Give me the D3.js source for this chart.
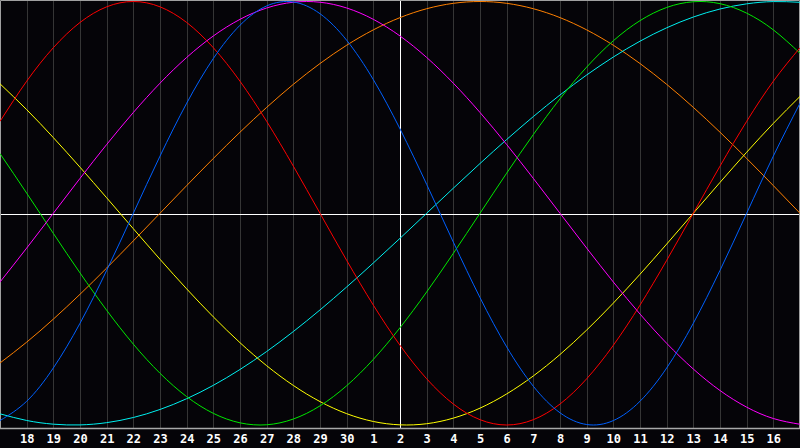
<!DOCTYPE html>
<html><head><meta charset="utf-8">
<script src="https://cdn.jsdelivr.net/npm/d3@7"></script>
<style>html,body{margin:0;padding:0;background:#050408;overflow:hidden}</style>
</head><body>
<svg id="c" width="800" height="448"></svg>
<script>
// Day labels (one per grid line, k = 1..29); k = 0 is day 17 at the left edge
const dayLabels = ["17","18","19","20","21","22","23","24","25","26","27","28","29","30","1","2","3","4","5","6","7","8","9","10","11","12","13","14","15","16","17"];
const todayIndex = 15;

// Series values, one per day (k = 0..30), range -1..1
const blue = [-0.9791,-0.8879,-0.7308,-0.5196,-0.2698,0,0.2698,0.5196,0.7308,0.8879,0.9791,0.9977,0.9423,0.8170,0.6311,0.3984,0.1362,-0.1362,-0.3984,-0.6311,-0.8170,-0.9423,-0.9977,-0.9791,-0.8879,-0.7308,-0.5196,-0.2698,0,0.2698,0.5196];
const red = [0.4339,0.6235,0.7818,0.9010,0.9749,1,0.9749,0.9010,0.7818,0.6235,0.4339,0.2225,0,-0.2225,-0.4339,-0.6235,-0.7818,-0.9010,-0.9749,-1,-0.9749,-0.9010,-0.7818,-0.6235,-0.4339,-0.2225,0,0.2225,0.4339,0.6235,0.7818];
const green = [0.2817,0.0951,-0.0951,-0.2817,-0.4582,-0.6182,-0.7557,-0.8660,-0.9450,-0.9898,-0.9989,-0.9718,-0.9096,-0.8146,-0.6901,-0.5406,-0.3717,-0.1893,0,0.1893,0.3717,0.5406,0.6901,0.8146,0.9096,0.9718,0.9989,0.9898,0.9450,0.8660,0.7557];
const magenta = [-0.3247,-0.1646,0,0.1646,0.3247,0.4759,0.6142,0.7357,0.8372,0.9158,0.9694,0.9966,0.9966,0.9694,0.9158,0.8372,0.7357,0.6142,0.4759,0.3247,0.1646,0,-0.1646,-0.3247,-0.4759,-0.6142,-0.7357,-0.8372,-0.9158,-0.9694,-0.9966];
const yellow = [0.6113,0.4894,0.3572,0.2174,0.0730,-0.0730,-0.2174,-0.3572,-0.4894,-0.6113,-0.7200,-0.8133,-0.8894,-0.9465,-0.9834,-0.9993,-0.9940,-0.9675,-0.9204,-0.8533,-0.7683,-0.6671,-0.5517,-0.4244,-0.2881,-0.1456,0,0.1456,0.2881,0.4244,0.5517];
const orange = [-0.7071,-0.6088,-0.5,-0.3827,-0.2588,-0.1305,0,0.1305,0.2588,0.3827,0.5,0.6088,0.7071,0.7934,0.8660,0.9239,0.9659,0.9914,1,0.9914,0.9659,0.9239,0.8660,0.7934,0.7071,0.6088,0.5,0.3827,0.2588,0.1305,0];
const cyan = [-0.9473,-0.9786,-0.9961,-0.9996,-0.9890,-0.9646,-0.9267,-0.8758,-0.8126,-0.7378,-0.6529,-0.5586,-0.4566,-0.3482,-0.2349,-0.1183,0,0.1183,0.2349,0.3482,0.4566,0.5586,0.6529,0.7378,0.8126,0.8758,0.9267,0.9646,0.9890,0.9996,0.9961];

const seriesList = [
  {name:"orange", values: orange, color:"#ff8000"},
  {name:"cyan", values: cyan, color:"#00f0f0"},
  {name:"yellow", values: yellow, color:"#ffff00"},
  {name:"green", values: green, color:"#00e800"},
  {name:"red", values: red, color:"#ff0000"},
  {name:"magenta", values: magenta, color:"#ff00ff"},
  {name:"blue", values: blue, color:"#0060ff"}
];

const svg = d3.select("#c");
const W = 800, plotBottom = 428;
const x = d3.scaleLinear().domain([0, 30]).range([0, 800]);
const y = d3.scaleLinear().domain([-1, 1]).range([425, 1.5]);

svg.append("rect").attr("x",0).attr("y",0).attr("width",W).attr("height",448).attr("fill","#050408");

// vertical day grid
const ks = d3.range(1, 30);
svg.append("g").selectAll("line").data(ks).join("line")
  .attr("x1", d => Math.round(x(d)) + 0.5).attr("x2", d => Math.round(x(d)) + 0.5)
  .attr("y1", 1).attr("y2", plotBottom)
  .attr("stroke", d => d === todayIndex ? "#ffffff" : "#353535")
  .attr("stroke-width", 1);

// horizontal zero line
svg.append("line").attr("x1",0).attr("x2",W).attr("y1",214.5).attr("y2",214.5)
  .attr("stroke","#ffffff").attr("stroke-width",1);

// frame
svg.append("path").attr("d", `M0.5,${plotBottom} V0.5 H799.5 V${plotBottom}`)
  .attr("fill","none").attr("stroke","#a0a0a0").attr("stroke-width",1);
svg.append("line").attr("x1",0).attr("x2",W).attr("y1",plotBottom+0.5).attr("y2",plotBottom+0.5)
  .attr("stroke","#a8a8a8").attr("stroke-width",1.5);

// curves
const line = d3.line().x((d,i) => x(i)).y(d => y(d)).curve(d3.curveNatural);
svg.append("g").selectAll("path").data(seriesList).join("path")
  .attr("d", s => line(s.values))
  .attr("fill","none").attr("stroke", s => s.color).attr("stroke-width",1);

// bottom axis labels
const axis = d3.axisBottom(x).tickValues(ks).tickSize(0).tickPadding(0)
  .tickFormat(d => dayLabels[d]);
const ag = svg.append("g").attr("transform",`translate(0,${plotBottom})`).call(axis);
ag.select(".domain").remove();
ag.selectAll("text").attr("dy", null).attr("y", 15)
  .attr("fill","#ffffff").attr("font-family","'DejaVu Sans Mono', monospace")
  .attr("font-weight","bold").attr("font-size","12px");
</script>
</body></html>
